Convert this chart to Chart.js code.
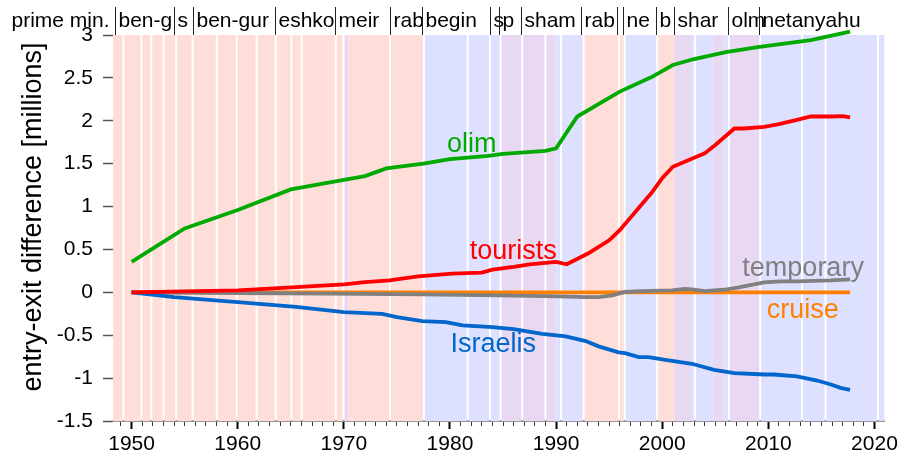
<!DOCTYPE html>
<html>
<head>
<meta charset="utf-8">
<script src="https://cdn.jsdelivr.net/npm/chart.js@4.4.1/dist/chart.umd.min.js"></script>
<style>
  html, body { margin: 0; padding: 0; background: #fff; }
</style>
</head>
<body>
<canvas id="myChart" width="901" height="456"></canvas>
<script>
// series (years are x values, millions on y)
const olimYears   = [1950, 1955, 1960, 1965, 1970, 1972, 1974, 1976.2, 1977.5, 1980, 1983.6, 1985, 1989, 1990, 1992, 1996, 1999, 2001, 2003, 2006, 2009, 2014, 2017.7];
const olimValues  = [0.355, 0.745, 0.96, 1.20, 1.31, 1.355, 1.445, 1.48, 1.50, 1.553, 1.59, 1.615, 1.65, 1.68, 2.05, 2.34, 2.51, 2.65, 2.72, 2.80, 2.86, 2.94, 3.04];

const touristYears  = [1950, 1960, 1965.5, 1970, 1972, 1974.3, 1977, 1980.2, 1983, 1984, 1986, 1987.5, 1990, 1991, 1993, 1995, 1996, 1998, 1999, 2000, 2001, 2003.4, 2004, 2005, 2006.8, 2007.7, 2009.6, 2011, 2012.7, 2014, 2016, 2017, 2017.7];
const touristValues = [0, 0.023, 0.06, 0.093, 0.12, 0.14, 0.187, 0.218, 0.23, 0.265, 0.296, 0.327, 0.354, 0.327, 0.452, 0.607, 0.724, 1.016, 1.16, 1.33, 1.464, 1.59, 1.62, 1.717, 1.91, 1.91, 1.93, 1.96, 2.01, 2.05, 2.05, 2.055, 2.04];

const israeliYears  = [1950, 1954, 1960, 1965.5, 1970, 1973.6, 1975, 1977.4, 1979.6, 1981.2, 1984, 1985.2, 1986, 1987, 1988.7, 1990.9, 1992.8, 1994, 1995.9, 1996.5, 1997.8, 1998.7, 2000.3, 2002.8, 2004.9, 2006.8, 2009.6, 2010.5, 2012.7, 2014.6, 2015.9, 2016.8, 2017.7];
const israeliValues = [0, -0.055, -0.113, -0.17, -0.23, -0.25, -0.29, -0.335, -0.347, -0.386, -0.405, -0.42, -0.428, -0.45, -0.483, -0.514, -0.568, -0.63, -0.70, -0.71, -0.756, -0.756, -0.786, -0.833, -0.903, -0.943, -0.958, -0.958, -0.981, -1.028, -1.075, -1.113, -1.137];

const tempYears  = [1950, 1960, 1968.6, 1977.4, 1984.6, 1990.3, 1992.8, 1994, 1995.3, 1996.5, 1998, 2000.9, 2002.1, 2002.8, 2004, 2005.8, 2007.1, 2009.6, 2011.1, 2012.7, 2015.9, 2017.7];
const tempValues = [0, -0.008, -0.015, -0.023, -0.035, -0.047, -0.055, -0.055, -0.035, 0.004, 0.015, 0.023, 0.039, 0.035, 0.015, 0.03, 0.055, 0.117, 0.128, 0.128, 0.14, 0.152];

const cruiseYears  = [1950, 2017.7];
const cruiseValues = [0, 0];

// government periods behind the plot: P = labor-led, B = likud-led, U = unity/kadima
const bandStart = [1948.24, 1949.32, 1951.01, 1951.95, 1953.12, 1954.30, 1955.84, 1958.12, 1959.99, 1961.87, 1963.68, 1965.15, 1966.12, 1969.33, 1970.06, 1970.44, 1974.44, 1977.63, 1981.76, 1983.86, 1984.86, 1986.90, 1989.08, 1990.02, 1990.56, 1992.68, 1996.03, 1996.56, 1999.62, 2001.16, 2002.72, 2003.19, 2004.85, 2005.79, 2006.38, 2009.32, 2013.26, 2015.48, 2020.42];
const bandEnd   = [1949.14, 1950.83, 1951.76, 1952.93, 1954.11, 1955.65, 1957.93, 1959.81, 1961.68, 1963.49, 1964.97, 1965.93, 1969.14, 1969.87, 1970.44, 1974.26, 1977.45, 1981.58, 1983.67, 1984.67, 1986.71, 1988.90, 1990.02, 1990.37, 1992.49, 1995.84, 1996.37, 1999.43, 2001.16, 2002.72, 2003.00, 2004.85, 2005.79, 2006.19, 2009.14, 2013.08, 2015.29, 2020.24, 2020.92];
const bandType  = ['P','P','P','P','P','P','P','P','P','P','P','P','P','P','U','P','P','B','B','B','U','U','U','B','B','P','P','B','P','U','B','B','U','B','U','B','B','B','B'];

// prime ministers (start of term) for the top strip
const pmNames = ['ben-g', 's', 'ben-gur', 'eshko', 'meir', 'rab', 'begin', 's', 'p', 'sham', 'rab', '', 'ne', 'b', 'shar', 'olm', 'netanyahu'];
const pmStart = [1948.39, 1953.99, 1955.80, 1963.47, 1969.16, 1974.35, 1977.38, 1983.73, 1984.58, 1986.71, 1992.39, 1995.77, 1996.31, 1999.38, 2001.09, 2006.16, 2009.13];

// in-plot series labels (year, value of baseline)
const labelText = ['olim', 'tourists', 'temporary', 'cruise', 'Israelis'];
const labelX    = [1979.73, 1981.86, 2007.55, 2009.85, 1980.05];
const labelY    = [1.636, 0.394, 0.187, -0.30, -0.70];

const green = '#00aa00', red = '#ff0000', blue = '#0066cc', gray = '#808080', orange = '#ff8000';
const labelColor = [green, red, gray, orange, blue];
const bandColors = { P: 'rgb(255,221,217)', B: 'rgb(221,225,255)', U: 'rgb(232,216,242)' };

const pts = (xs, ys) => xs.map((x, i) => ({ x: x, y: ys[i] }));
const FONT = '"Liberation Sans", Arial, sans-serif';

Chart.defaults.font.family = FONT;
Chart.defaults.font.size = 21;
Chart.defaults.color = '#000';

const govBands = {
  id: 'govBands',
  beforeDatasetsDraw(chart) {
    const { ctx, chartArea, scales: { x } } = chart;
    ctx.save();
    for (let i = 0; i < bandStart.length; i++) {
      const x1 = x.getPixelForValue(bandStart[i]);
      const x2 = x.getPixelForValue(bandEnd[i]);
      ctx.fillStyle = bandColors[bandType[i]];
      ctx.fillRect(x1, chartArea.top, x2 - x1, chartArea.bottom - chartArea.top);
    }
    ctx.restore();
  }
};

const extraText = {
  id: 'extraText',
  afterDraw(chart) {
    const { ctx, chartArea, scales: { x, y } } = chart;
    ctx.save();
    // prime minister strip
    ctx.font = '21px ' + FONT;
    ctx.fillStyle = '#000';
    ctx.textBaseline = 'alphabetic';
    ctx.textAlign = 'right';
    ctx.fillText('prime min.', chartArea.left - 3, 27);
    ctx.textAlign = 'left';
    ctx.strokeStyle = '#222';
    ctx.lineWidth = 1;
    pmStart.forEach((yr, i) => {
      const px = Math.round(x.getPixelForValue(yr)) + 0.5;
      ctx.beginPath();
      ctx.moveTo(px, 7);
      ctx.lineTo(px, chartArea.top);
      ctx.stroke();
      ctx.fillText(pmNames[i], px + 3, 27);
    });
    // series labels
    ctx.font = '27px ' + FONT;
    labelText.forEach((t, i) => {
      ctx.fillStyle = labelColor[i];
      ctx.fillText(t, x.getPixelForValue(labelX[i]), y.getPixelForValue(labelY[i]));
    });
    // y axis title
    ctx.translate(34, 217);
    ctx.rotate(-Math.PI / 2);
    ctx.textAlign = 'center';
    ctx.textBaseline = 'middle';
    ctx.fillStyle = '#000';
    ctx.fillText('entry-exit difference [millions]', 0, 0);
    ctx.restore();
  }
};

const line = (label, xs, ys, color) => ({
  label: label,
  data: pts(xs, ys),
  borderColor: color,
  backgroundColor: color,
  borderWidth: 3.8,
  pointRadius: 0,
  tension: 0,
  fill: false,
  clip: false
});

new Chart(document.getElementById('myChart'), {
  type: 'line',
  data: {
    datasets: [
      line('olim', olimYears, olimValues, green),
      line('tourists', touristYears, touristValues, red),
      line('Israelis', israeliYears, israeliValues, blue),
      line('temporary', tempYears, tempValues, gray),
      line('cruise', cruiseYears, cruiseValues, orange)
    ]
  },
  options: {
    responsive: false,
    animation: false,
    layout: { padding: { left: 0, right: 13.5, top: 35, bottom: 0 } },
    plugins: { legend: { display: false }, tooltip: { enabled: false } },
    scales: {
      x: {
        type: 'linear',
        min: 1948.2,
        max: 2020.95,
        afterFit: s => { s.height = 35; },
        border: { display: true, color: '#999', width: 2 },
        grid: {
          drawOnChartArea: false,
          tickLength: 8,
          color: c => (c.tick && c.tick.value % 10 === 0) ? '#000' : '#333',
          tickWidth: c => (c.tick && c.tick.value % 10 === 0) ? 2 : 1,
          tickBorderDash: c => (c.tick && c.tick.value % 10 === 0) ? [] : [4, 20]
        },
        ticks: {
          stepSize: 1,
          includeBounds: false,
          autoSkip: false,
          maxRotation: 0,
          padding: 3,
          callback: v => (v % 10 === 0 ? String(v) : '')
        }
      },
      y: {
        min: -1.5,
        max: 3,
        afterFit: s => { s.width = 112.5; },
        border: { display: false },
        grid: { drawOnChartArea: false, tickLength: 9.5, color: '#555', tickWidth: 1.5 },
        ticks: { stepSize: 0.5, padding: 10, callback: v => String(v) }
      }
    }
  },
  plugins: [govBands, extraText]
});
</script>
</body>
</html>
